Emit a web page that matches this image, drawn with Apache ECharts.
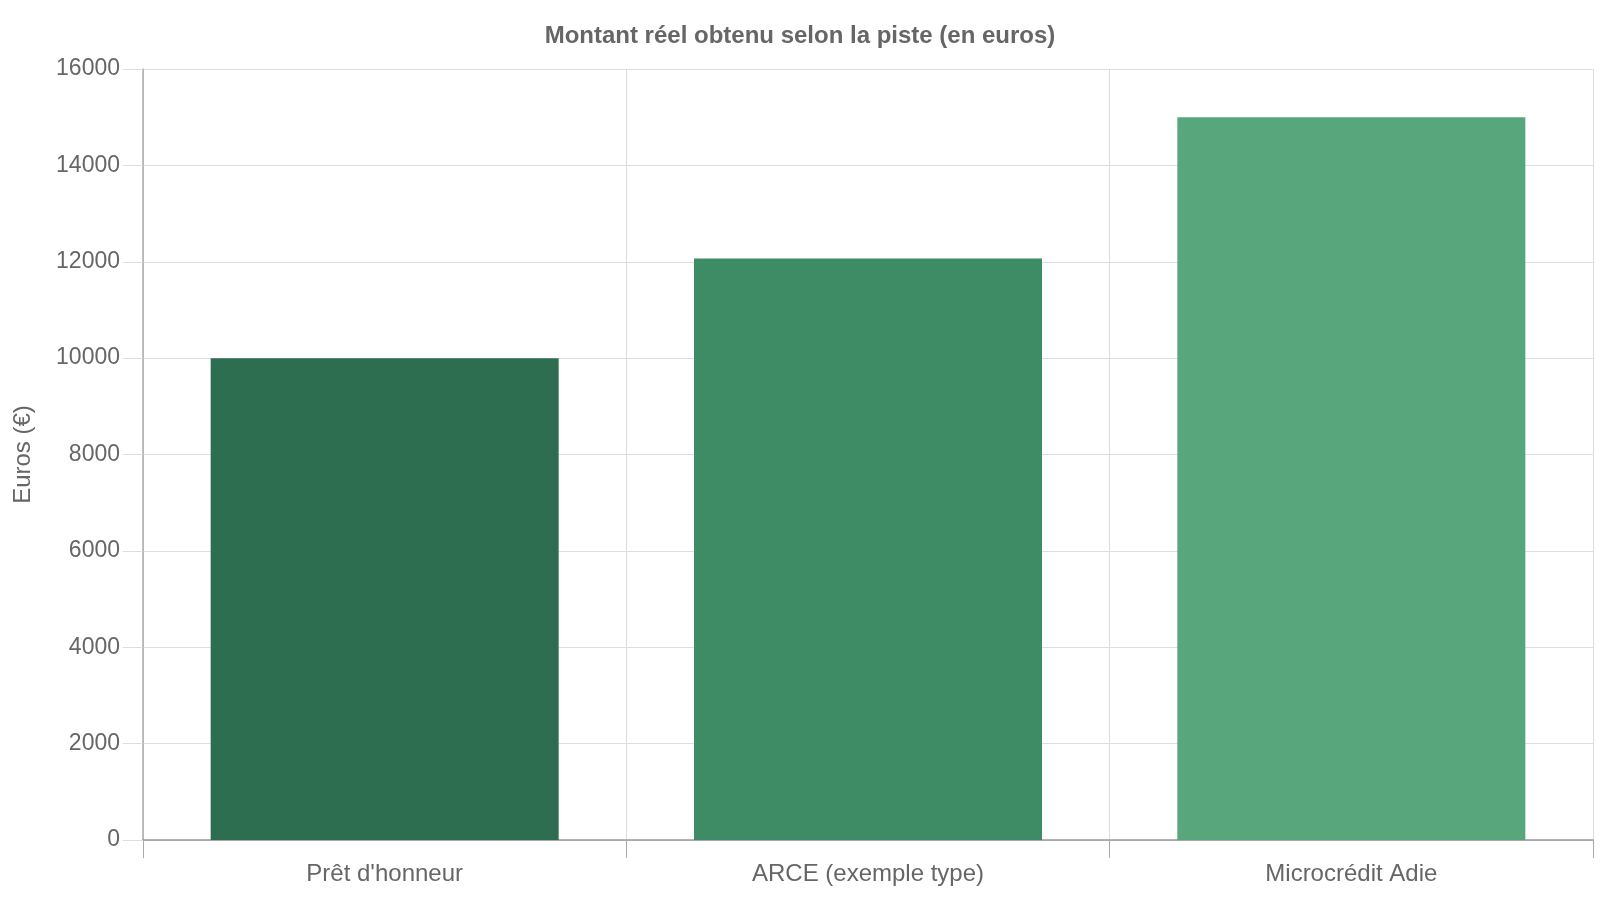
<!DOCTYPE html>
<html lang="fr">
<head>
<meta charset="UTF-8">
<title>Montant réel obtenu selon la piste</title>
<style>
    body { margin: 0; padding: 0; background: #FFFFFF; overflow: hidden; }
    #main_chart { width: 1600px; height: 900px; }
</style>
</head>
<body>
<div id="main_chart"></div>
<script src="https://cdn.jsdelivr.net/npm/echarts@6/dist/echarts.min.js"></script>
<script>
var categories = ["Prêt d'honneur", 'ARCE (exemple type)', 'Microcrédit Adie'];
var amounts = [10000, 12070, 15000];
var barColors = ['#2e6e50', '#3e8c65', '#57a67c'];

var chart = echarts.init(document.getElementById('main_chart'));

var option = {
    animation: false,
    textStyle: { fontFamily: 'Liberation Sans, Arial, sans-serif' },
    title: {
        text: 'Montant réel obtenu selon la piste (en euros)',
        left: 'center',
        top: 19,
        textStyle: { fontSize: 24, fontWeight: 'bold', color: '#666666' }
    },
    grid: { left: 143, right: 7, top: 69, bottom: 60 },
    xAxis: {
        type: 'category',
        data: categories,
        axisLine: { lineStyle: { color: '#999999', width: 1.5 } },
        axisTick: { show: true, length: 18, lineStyle: { color: '#aaaaaa' } },
        axisLabel: { fontSize: 24, color: '#666666', margin: 22 },
        splitLine: { show: true, lineStyle: { color: '#dddddd' } }
    },
    yAxis: {
        type: 'value',
        min: 0,
        max: 16000,
        interval: 2000,
        name: 'Euros (€)',
        nameLocation: 'middle',
        nameGap: 108,
        nameTextStyle: { fontSize: 24, color: '#666666' },
        axisLine: { show: true, lineStyle: { color: '#aaaaaa', width: 1.5 } },
        axisTick: { show: true, length: 20, lineStyle: { color: '#dddddd' } },
        axisLabel: {
            fontSize: 23,
            color: '#666666',
            margin: 23,
            formatter: function (v) { return String(v); }
        },
        splitLine: { show: true, lineStyle: { color: '#dddddd' } }
    },
    series: [{
        type: 'bar',
        data: amounts.map(function (v, i) {
            return { value: v, itemStyle: { color: barColors[i] } };
        }),
        barCategoryGap: '28%'
    }]
};

chart.setOption(option);
</script>
</body>
</html>
